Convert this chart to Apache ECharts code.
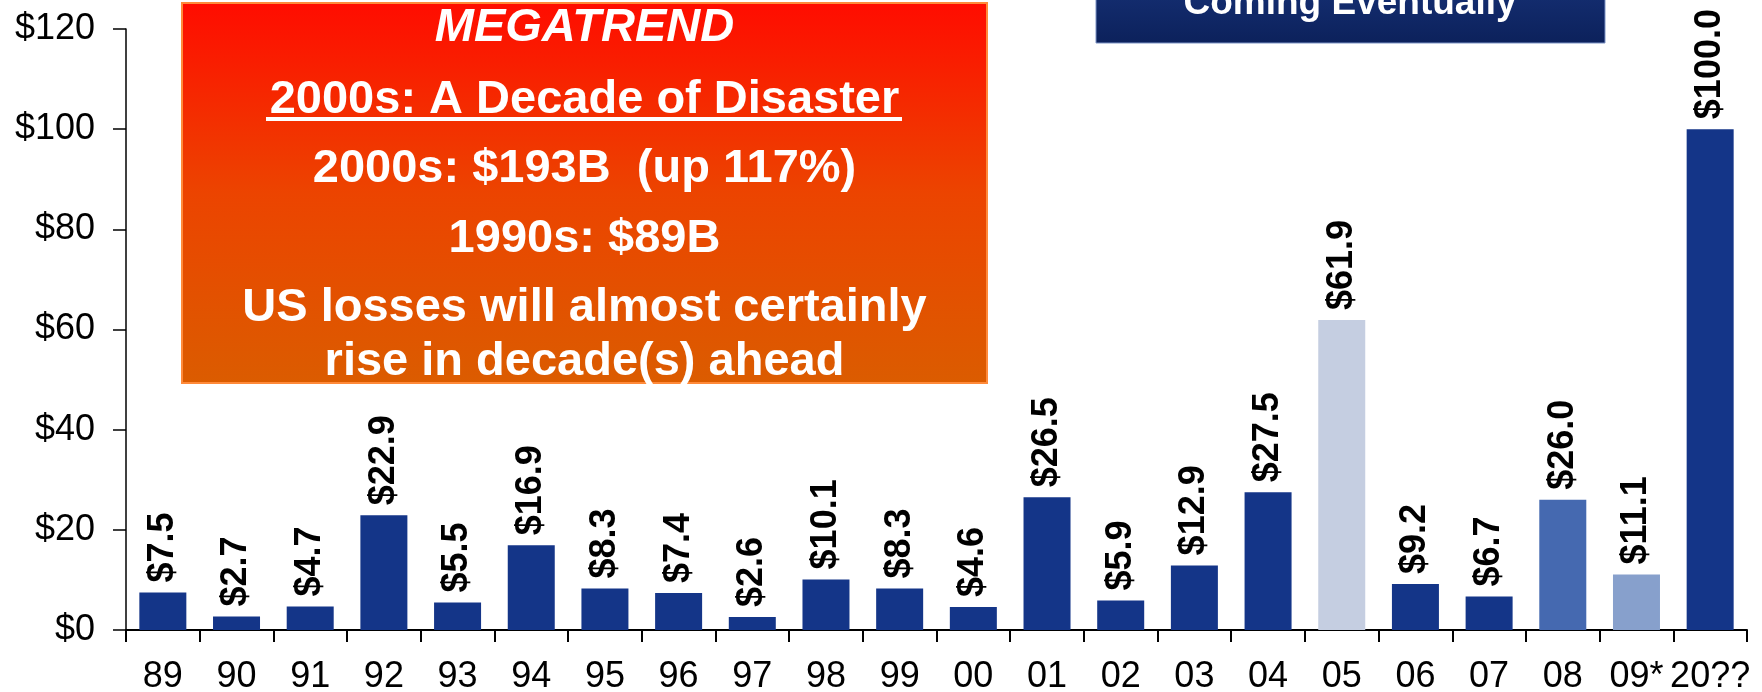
<!DOCTYPE html>
<html>
<head>
<meta charset="utf-8">
<script src="https://cdn.jsdelivr.net/npm/echarts@6/dist/echarts.min.js"></script>
<style>
  html, body { margin: 0; padding: 0; background: #ffffff; }
  #chart { width: 1762px; height: 692px; }
</style>
</head>
<body>
<div id="chart"></div>
<script>
// Annual insured catastrophe losses, $ billions
const years = ['89', '90', '91', '92', '93', '94', '95', '96', '97', '98', '99',
               '00', '01', '02', '03', '04', '05', '06', '07', '08', '09*', '20??'];
const losses = [7.5, 2.7, 4.7, 22.9, 5.5, 16.9, 8.3, 7.4, 2.6, 10.1, 8.3,
                4.6, 26.5, 5.9, 12.9, 27.5, 61.9, 9.2, 6.7, 26.0, 11.1, 100.0];
const barColors = ['#143588', '#143588', '#143588', '#143588', '#143588', '#143588',
                   '#143588', '#143588', '#143588', '#143588', '#143588', '#143588',
                   '#143588', '#143588', '#143588', '#143588', '#c5cee1', '#143588',
                   '#143588', '#4569b0', '#87a0cc', '#143588'];
const yTicks = { min: 0, max: 120, step: 20 };

const boxLines = [
  { text: 'MEGATREND', y: 28, style: 'italic' },
  { text: '2000s: A Decade of Disaster', y: 100 },
  { text: '2000s: $193B  (up 117%)', y: 169 },
  { text: '1990s: $89B', y: 239 },
  { text: 'US losses will almost certainly', y: 308 },
  { text: 'rise in decade(s) ahead', y: 362 }
];
const bannerText = 'Coming Eventually';

const FONT = '"Liberation Sans", Arial, Helvetica, sans-serif';

const chart = echarts.init(document.getElementById('chart'), null, { renderer: 'canvas' });

const boxX = 182, boxY = 3, boxW = 805, boxH = 380;
const boxCx = boxX + boxW / 2;

const graphics = [
  {
    type: 'rect',
    shape: { x: boxX, y: boxY, width: boxW, height: boxH },
    style: {
      fill: {
        type: 'linear', x: 0, y: 0, x2: 0, y2: 1,
        colorStops: [
          { offset: 0, color: '#ff0c00' },
          { offset: 0.5, color: '#ec4400' },
          { offset: 1, color: '#db5c00' }
        ]
      },
      stroke: '#ff8a3a',
      lineWidth: 2
    },
    z: 10
  },
  {
    type: 'rect',
    shape: { x: 1096, y: -2, width: 509, height: 45 },
    style: {
      fill: {
        type: 'linear', x: 0, y: 0, x2: 0, y2: 1,
        colorStops: [
          { offset: 0, color: '#132c6e' },
          { offset: 1, color: '#0c215b' }
        ]
      },
      stroke: '#7d93c6',
      lineWidth: 1
    },
    z: 10
  },
  {
    type: 'text',
    x: 1350, y: 4,
    style: {
      text: bannerText,
      fill: '#ffffff',
      font: 'bold 37px ' + FONT,
      align: 'center',
      verticalAlign: 'middle'
    },
    z: 11
  }
];

boxLines.forEach(function (ln) {
  graphics.push({
    type: 'text',
    x: boxCx, y: ln.y,
    style: {
      text: ln.text,
      fill: '#ffffff',
      font: (ln.style === 'italic' ? 'italic ' : '') + 'bold 47px ' + FONT,
      align: 'center',
      verticalAlign: 'middle'
    },
    z: 11
  });
});

// underline beneath the heading line
graphics.push({
  type: 'rect',
  shape: { x: 266, y: 117, width: 636, height: 4 },
  style: { fill: '#ffffff' },
  z: 11
});

const option = {
  backgroundColor: '#ffffff',
  animation: false,
  grid: {
    left: 126, right: 15, top: 29, bottom: 62,
    containLabel: false,
    outerBoundsMode: 'none'
  },
  xAxis: {
    type: 'category',
    data: years,
    boundaryGap: true,
    axisLine: { show: true, lineStyle: { color: '#000000', width: 2 } },
    axisTick: { show: true, alignWithLabel: false, length: 12, lineStyle: { color: '#000000', width: 2 } },
    axisLabel: {
      interval: 0,
      hideOverlap: false,
      margin: 29,
      color: '#000000',
      fontSize: 36,
      fontFamily: FONT
    }
  },
  yAxis: {
    type: 'value',
    min: yTicks.min,
    max: yTicks.max,
    interval: yTicks.step,
    splitLine: { show: false },
    axisLine: { show: true, lineStyle: { color: '#000000', width: 1.5 } },
    axisTick: { show: true, length: 13, lineStyle: { color: '#000000', width: 1.5 } },
    axisLabel: {
      margin: 31,
      color: '#000000',
      fontSize: 36,
      fontFamily: FONT,
      formatter: function (v) { return '$' + v; }
    }
  },
  series: [{
    type: 'bar',
    barWidth: 47,
    data: losses.map(function (v, i) {
      return { value: v, itemStyle: { color: barColors[i] } };
    }),
    label: {
      show: true,
      position: 'top',
      distance: 10,
      rotate: 90,
      align: 'left',
      verticalAlign: 'middle',
      color: '#000000',
      fontSize: 36,
      fontWeight: 'bold',
      fontFamily: FONT,
      formatter: function (p) { return '$' + p.value.toFixed(1); }
    }
  }],
  graphic: graphics
};

chart.setOption(option);
</script>
</body>
</html>
